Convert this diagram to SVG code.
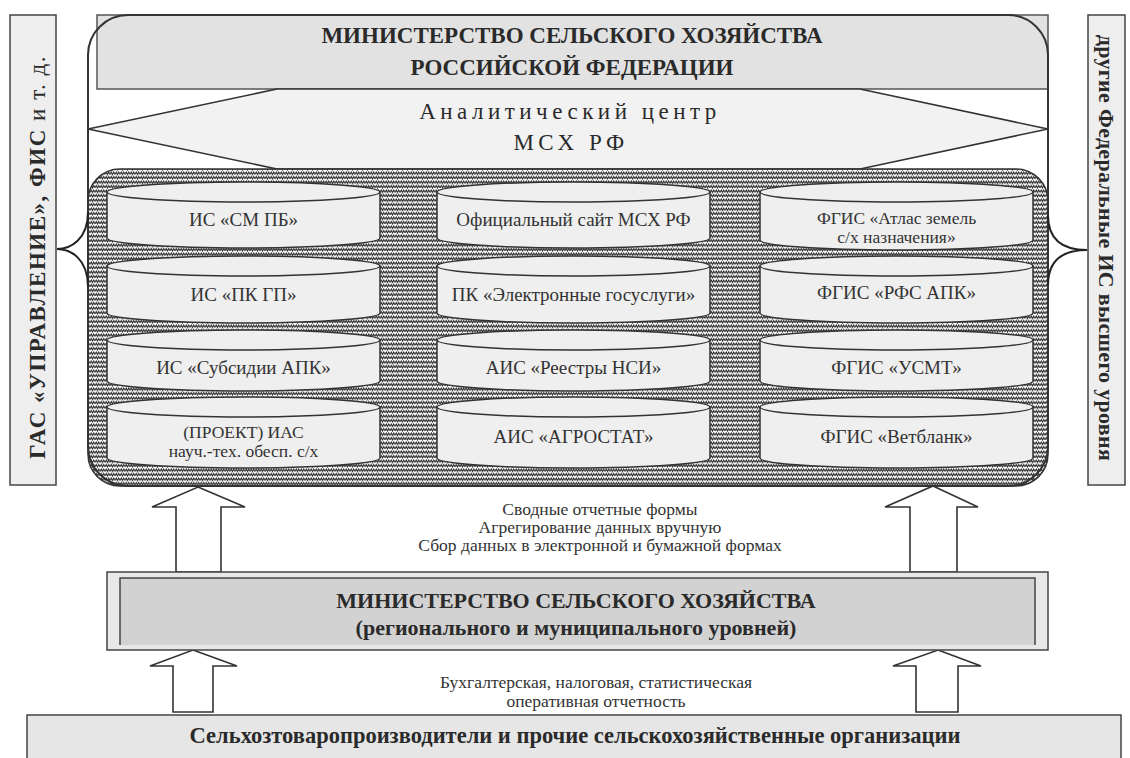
<svg xmlns="http://www.w3.org/2000/svg" width="1130" height="758" viewBox="0 0 1130 758">
<defs>
<pattern id="zig" patternUnits="userSpaceOnUse" width="5" height="4.5">
<rect width="5" height="4.5" fill="#ffffff"/>
<polyline points="0,3.4 1.25,1.1 2.5,3.4 3.75,1.1 5,3.4" fill="none" stroke="#2e2e2e" stroke-width="1.2"/>
</pattern>
<style>
text{font-family:"Liberation Serif","Times New Roman",serif;fill:#2a2a2a}
.b{font-weight:bold}
.cyl path,.cyl ellipse{fill:#efefef;stroke:#333;stroke-width:1.5}
.cyl text{font-size:19px;text-anchor:middle;fill:#333}
.cyl text.two{font-size:17.5px}
.mid{font-size:17.5px;text-anchor:middle;fill:#333}
.arr{fill:#ffffff;stroke:#333;stroke-width:1.6}
</style>
</defs>
<rect width="1130" height="758" fill="#ffffff"/>

<g id="left-box">
<rect x="10" y="15" width="46" height="470" fill="#eeeeee" stroke="#444" stroke-width="1.5"/>
<text transform="translate(45,257) rotate(-90)" text-anchor="middle" font-size="23" letter-spacing="1.5"><tspan class="b">ГАС «УПРАВЛЕНИЕ», ФИС</tspan> и т. д.</text>
</g>
<g id="right-box">
<rect x="1088" y="15" width="37" height="470" fill="#eeeeee" stroke="#444" stroke-width="1.5"/>
<text class="b" transform="translate(1099,248) rotate(90)" text-anchor="middle" font-size="22" letter-spacing="0.3">другие Федеральные ИС высшего уровня</text>
</g>

<g id="ministry-rf">
<rect x="97" y="15" width="951" height="74" fill="#e2e2e2" stroke="#555" stroke-width="1.5"/>
<text class="b" x="572" y="43" text-anchor="middle" font-size="23">МИНИСТЕРСТВО СЕЛЬСКОГО ХОЗЯЙСТВА</text>
<text class="b" x="572" y="75" text-anchor="middle" font-size="23">РОССИЙСКОЙ ФЕДЕРАЦИИ</text>
</g>

<g id="analytic-center">
<polygon points="88,129 277,89 860,89 1048,129 860,169 277,169" fill="#f2f2f2" stroke="#333" stroke-width="1.5"/>
<text x="570" y="119" text-anchor="middle" font-size="23" letter-spacing="4.5" fill="#444">Аналитический центр</text>
<text x="571" y="150" text-anchor="middle" font-size="23" letter-spacing="4.5" fill="#444">МСХ РФ</text>
</g>

<g id="is-container">
<rect x="88" y="169" width="960" height="317" rx="32" fill="url(#zig)" stroke="#333" stroke-width="1.5"/>
</g>

<g id="frame">
<rect x="88" y="15" width="960" height="471" rx="40" fill="none" stroke="#333" stroke-width="2"/>
<path d="M88,212 C88,240 70,249 57,249 C70,249 88,258 88,287" fill="none" stroke="#222" stroke-width="2"/>
<path d="M1048,215 C1048,242 1066,250 1087,250 C1066,250 1048,258 1048,285" fill="none" stroke="#222" stroke-width="2"/>
</g>

<!-- column 1 -->
<g id="is-sm-pb" class="cyl">
<path d="M107,192 L107,238 A136.5,10 0 0 0 380,238 L380,192 Z"/>
<ellipse cx="243.5" cy="192" rx="136.5" ry="10"/>
<text x="243.5" y="226">ИС «СМ ПБ»</text>
</g>
<g id="is-pk-gp" class="cyl">
<path d="M107,266 L107,313 A136.5,10 0 0 0 380,313 L380,266 Z"/>
<ellipse cx="243.5" cy="266" rx="136.5" ry="10"/>
<text x="243.5" y="301">ИС «ПК ГП»</text>
</g>
<g id="is-subsidii" class="cyl">
<path d="M107,340 L107,381 A136.5,10 0 0 0 380,381 L380,340 Z"/>
<ellipse cx="243.5" cy="340" rx="136.5" ry="10"/>
<text x="243.5" y="374">ИС «Субсидии АПК»</text>
</g>
<g id="ias-project" class="cyl">
<path d="M107,407 L107,458 A136.5,10 0 0 0 380,458 L380,407 Z"/>
<ellipse cx="243.5" cy="407" rx="136.5" ry="10"/>
<text class="two" x="243.5" y="438">(ПРОЕКТ) ИАС</text>
<text class="two" x="243.5" y="457">науч.-тех. обесп. с/х</text>
</g>

<!-- column 2 -->
<g id="official-site" class="cyl">
<path d="M437,192 L437,238 A136.5,10 0 0 0 710,238 L710,192 Z"/>
<ellipse cx="573.5" cy="192" rx="136.5" ry="10"/>
<text x="573.5" y="226">Официальный сайт МСХ РФ</text>
</g>
<g id="pk-gosuslugi" class="cyl">
<path d="M437,266 L437,313 A136.5,10 0 0 0 710,313 L710,266 Z"/>
<ellipse cx="573.5" cy="266" rx="136.5" ry="10"/>
<text x="573.5" y="301">ПК «Электронные госуслуги»</text>
</g>
<g id="ais-nsi" class="cyl">
<path d="M437,340 L437,381 A136.5,10 0 0 0 710,381 L710,340 Z"/>
<ellipse cx="573.5" cy="340" rx="136.5" ry="10"/>
<text x="573.5" y="374">АИС «Реестры НСИ»</text>
</g>
<g id="ais-agrostat" class="cyl">
<path d="M437,407 L437,458 A136.5,10 0 0 0 710,458 L710,407 Z"/>
<ellipse cx="573.5" cy="407" rx="136.5" ry="10"/>
<text x="573.5" y="443">АИС «АГРОСТАТ»</text>
</g>

<!-- column 3 -->
<g id="fgis-atlas" class="cyl">
<path d="M760,192 L760,240 A136.5,10 0 0 0 1033,240 L1033,192 Z"/>
<ellipse cx="896.5" cy="192" rx="136.5" ry="10"/>
<text class="two" x="896.5" y="224">ФГИС «Атлас земель</text>
<text class="two" x="896.5" y="243">с/х назначения»</text>
</g>
<g id="fgis-rfs" class="cyl">
<path d="M760,266 L760,313 A136.5,10 0 0 0 1033,313 L1033,266 Z"/>
<ellipse cx="896.5" cy="266" rx="136.5" ry="10"/>
<text x="896.5" y="299">ФГИС «РФС АПК»</text>
</g>
<g id="fgis-usmt" class="cyl">
<path d="M760,340 L760,381 A136.5,10 0 0 0 1033,381 L1033,340 Z"/>
<ellipse cx="896.5" cy="340" rx="136.5" ry="10"/>
<text x="896.5" y="374">ФГИС «УСМТ»</text>
</g>
<g id="fgis-vetblank" class="cyl">
<path d="M760,407 L760,458 A136.5,10 0 0 0 1033,458 L1033,407 Z"/>
<ellipse cx="896.5" cy="407" rx="136.5" ry="10"/>
<text x="896.5" y="443">ФГИС «Ветбланк»</text>
</g>

<g id="connectors">
<polygon class="arr" points="198,487 245,507 221,507 221,572 176,572 176,507 152,507"/>
<polygon class="arr" points="933,486 978,507 957,507 957,572 910,572 910,507 885,507"/>
<polygon class="arr" points="193,650 237,666 213,666 213,712 173,712 173,666 150,666"/>
<polygon class="arr" points="938,650 981,666 958,666 958,712 916,712 916,666 893,666"/>
</g>

<g id="flow-labels-upper">
<text class="mid" x="600" y="515">Сводные отчетные формы</text>
<text class="mid" x="600" y="533">Агрегирование данных вручную</text>
<text class="mid" x="600" y="551">Сбор данных в электронной и бумажной формах</text>
</g>

<g id="ministry-regional">
<rect x="107" y="572" width="941" height="78" fill="#e8e8e8" stroke="#444" stroke-width="1.5"/>
<rect x="120" y="578" width="915" height="67" fill="#d2d2d2"/>
<path d="M120,645 L120,578 L1035,578 L1035,645" fill="none" stroke="#444" stroke-width="1.5"/>
<text class="b" x="576" y="608" text-anchor="middle" font-size="22">МИНИСТЕРСТВО СЕЛЬСКОГО ХОЗЯЙСТВА</text>
<text class="b" x="576" y="635" text-anchor="middle" font-size="22">(регионального и муниципального уровней)</text>
</g>

<g id="flow-labels-lower">
<text class="mid" x="596" y="688">Бухгалтерская, налоговая, статистическая</text>
<text class="mid" x="596" y="707">оперативная отчетность</text>
</g>

<g id="producers">
<rect x="27" y="715" width="1094" height="50" fill="#e6e6e6" stroke="#444" stroke-width="1.5"/>
<text class="b" x="575" y="743" text-anchor="middle" font-size="22.5">Сельхозтоваропроизводители и прочие сельскохозяйственные организации</text>
</g>
</svg>
